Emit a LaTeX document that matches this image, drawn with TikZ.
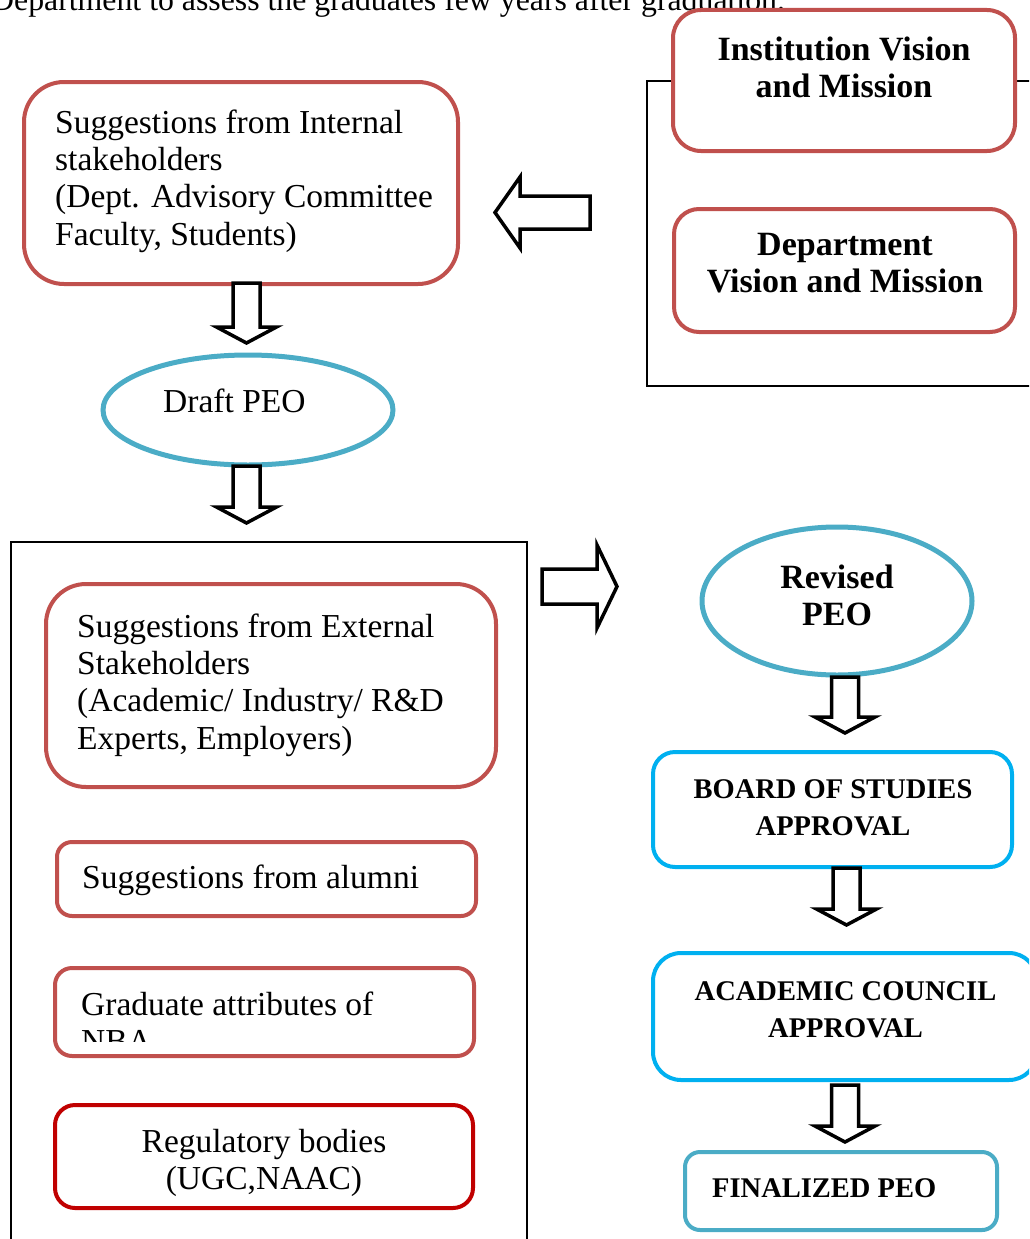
\documentclass[tikz,border=0pt]{standalone}
\usepackage{fontspec}
\setmainfont{Liberation Serif}
\usetikzlibrary{shapes.geometric,calc}
\definecolor{boxred}{HTML}{C0504D}
\definecolor{darkred}{HTML}{C00000}
\definecolor{teal}{HTML}{4BACC6}
\definecolor{sky}{HTML}{00B0F0}
\newcommand\regfont{\fontsize{33.5}{37.3}\selectfont}
\newcommand\boldlc{\fontsize{34}{37.3}\selectfont\bfseries}
\newcommand\boldcaps{\fontsize{28.5}{37.3}\selectfont\bfseries}
\newcommand\topstrut{\rule{0pt}{25pt}}
% down block arrow: x, start anchor, offset, length
\newcommand\DownBlock[4]{%
  \draw[blockarr] let \p1=(#2) in
    ({#1pt-13.5pt},{\y1-#3pt}) -- ({#1pt+13.5pt},{\y1-#3pt})
    -- ({#1pt+13.5pt},{\y1-#3pt-#4pt+16pt}) -- ({#1pt+30pt},{\y1-#3pt-#4pt+16pt})
    -- ({#1pt},{\y1-#3pt-#4pt}) -- ({#1pt-30pt},{\y1-#3pt-#4pt+16pt})
    -- ({#1pt-13.5pt},{\y1-#3pt-#4pt+16pt}) -- cycle;}
\tikzset{
  rbox/.style={draw=#1, line width=4pt, fill=white, inner sep=0pt, outer sep=0pt},
  oval/.style={ellipse, draw=teal, line width=5pt, fill=white, inner sep=0pt, outer sep=0pt},
  cont/.style={draw=black, line width=2pt, inner sep=0pt, outer sep=0pt},
  blockarr/.style={draw=black, line width=3.5pt, fill=white, line join=miter},
  txtl/.style={inner sep=0pt, anchor=north west, align=left, font=\regfont},
  txtc/.style={inner sep=0pt, anchor=north, align=center},
}
\begin{document}
\begin{tikzpicture}[x=1pt,y=-1pt]
\useasboundingbox (0,0) rectangle (1029,1239);
\clip (0,0) rectangle (1029,1239);

% top running text (cut off)
\node[inner sep=0pt, anchor=base west, font=\fontsize{31.8}{36}\selectfont] (ttop) at (-9,11)
  {Department to assess the graduates few years after graduation.};

% containers
\node[cont, minimum width=453pt, minimum height=305pt] (rcont) at (873.5,233.5) {};
\node[cont, minimum width=516pt, minimum height=758pt] (lcont) at (269,921) {};

% boxes
\node[rbox=boxred, rounded corners=40pt, minimum width=434pt, minimum height=202pt] (bint) at (241,183) {};
\node[rbox=boxred, rounded corners=28pt, minimum width=342pt, minimum height=141pt] (binst) at (844,80.5) {};
\node[rbox=boxred, rounded corners=25pt, minimum width=341pt, minimum height=123pt] (bdept) at (844.5,270.5) {};
\node[oval, minimum width=290pt, minimum height=110pt] (draft) at (248,410) {};
\node[rbox=boxred, rounded corners=40pt, minimum width=450pt, minimum height=203pt] (bext) at (271,685.5) {};
\node[rbox=boxred, rounded corners=15pt, minimum width=419pt, minimum height=74pt] (balum) at (266.5,879) {};
\node[rbox=boxred, rounded corners=17pt, minimum width=419pt, minimum height=88pt] (bgrad) at (264.5,1012) {};
\node[rbox=darkred, rounded corners=20pt, minimum width=418pt, minimum height=103pt] (breg) at (264,1156.5) {};
\node[oval, minimum width=270pt, minimum height=148pt] (rev) at (837,601) {};
\node[rbox=sky, rounded corners=22pt, minimum width=359pt, minimum height=115pt] (bbos) at (832.5,809.5) {};
\node[rbox=sky, rounded corners=28pt, minimum width=384pt, minimum height=127pt] (bacad) at (845,1016.5) {};
\node[rbox=teal, rounded corners=15pt, minimum width=312pt, minimum height=78pt] (bfin) at (841,1191) {};

% block arrows
\DownBlock{246.5}{bint.south}{-1}{60}
\DownBlock{246.5}{draft.south}{1}{57}
\DownBlock{845}{rev.south}{2}{56}
\DownBlock{846.5}{bbos.south}{1}{57}
\DownBlock{845}{bacad.south}{5}{57}
% left arrow (from vision/mission group to internal suggestions)
\draw[blockarr] let \p1=(bint.east), \p2=(rcont.west), \p3=(0,212.5) in
  (\x1+37pt,\y3) -- (\x1+62pt,\y3+35.5pt) -- (\x1+62pt,\y3+16.5pt) -- (\x2-57pt,\y3+16.5pt)
  -- (\x2-57pt,\y3-16.5pt) -- (\x1+62pt,\y3-16.5pt) -- (\x1+62pt,\y3-35.5pt) -- cycle;
% right arrow (from external group to revised PEO)
\draw[blockarr] let \p1=(lcont.east), \p2=(rev.west), \p3=(0,586.5) in
  (\x2-85pt,\y3) -- (\x1+70pt,\y3+41.5pt) -- (\x1+70pt,\y3+17.5pt) -- (\x1+15pt,\y3+17.5pt)
  -- (\x1+15pt,\y3-17.5pt) -- (\x1+70pt,\y3-17.5pt) -- (\x1+70pt,\y3-41.5pt) -- cycle;

% texts
\node[txtl] (tint) at (55,108) {\topstrut Suggestions from Internal\\stakeholders\\(Dept. Advisory Committee\\Faculty, Students)};
\node[txtc, font=\boldlc] (tinst) at (844,35) {\topstrut Institution Vision\\and Mission};
\node[txtc, font=\boldlc] (tdept) at (845,230) {\topstrut Department\\Vision and Mission};
\node[inner sep=0pt, anchor=base west, font=\regfont] (tdraft) at (163,412) {Draft PEO};
\node[txtl] (text) at (77,612) {\topstrut Suggestions from External\\Stakeholders\\(Academic/ Industry/ R\&D\\Experts, Employers)};
\node[inner sep=0pt, anchor=base west, font=\regfont] (talum) at (82,888) {Suggestions from alumni};
\begin{scope}
  \clip (57,970) rectangle (472,1041);
  \node[txtl] (tgrad) at (81,990) {\topstrut Graduate attributes of\\NBA};
\end{scope}
\node[txtc, font=\regfont] (treg) at (264,1127) {\topstrut Regulatory bodies\\(UGC,NAAC)};
\node[txtc, font=\boldlc] (trev) at (837,563) {\topstrut Revised\\PEO};
\node[txtc, font=\boldcaps] (tbos) at (833,773) {\topstrut BOARD OF STUDIES\\APPROVAL};
\node[txtc, font=\boldcaps] (tacad) at (845.5,975) {\topstrut ACADEMIC COUNCIL\\APPROVAL};
\node[inner sep=0pt, anchor=base west, font=\boldcaps] (tfin) at (712,1197) {FINALIZED PEO};
\end{tikzpicture}
\end{document}
